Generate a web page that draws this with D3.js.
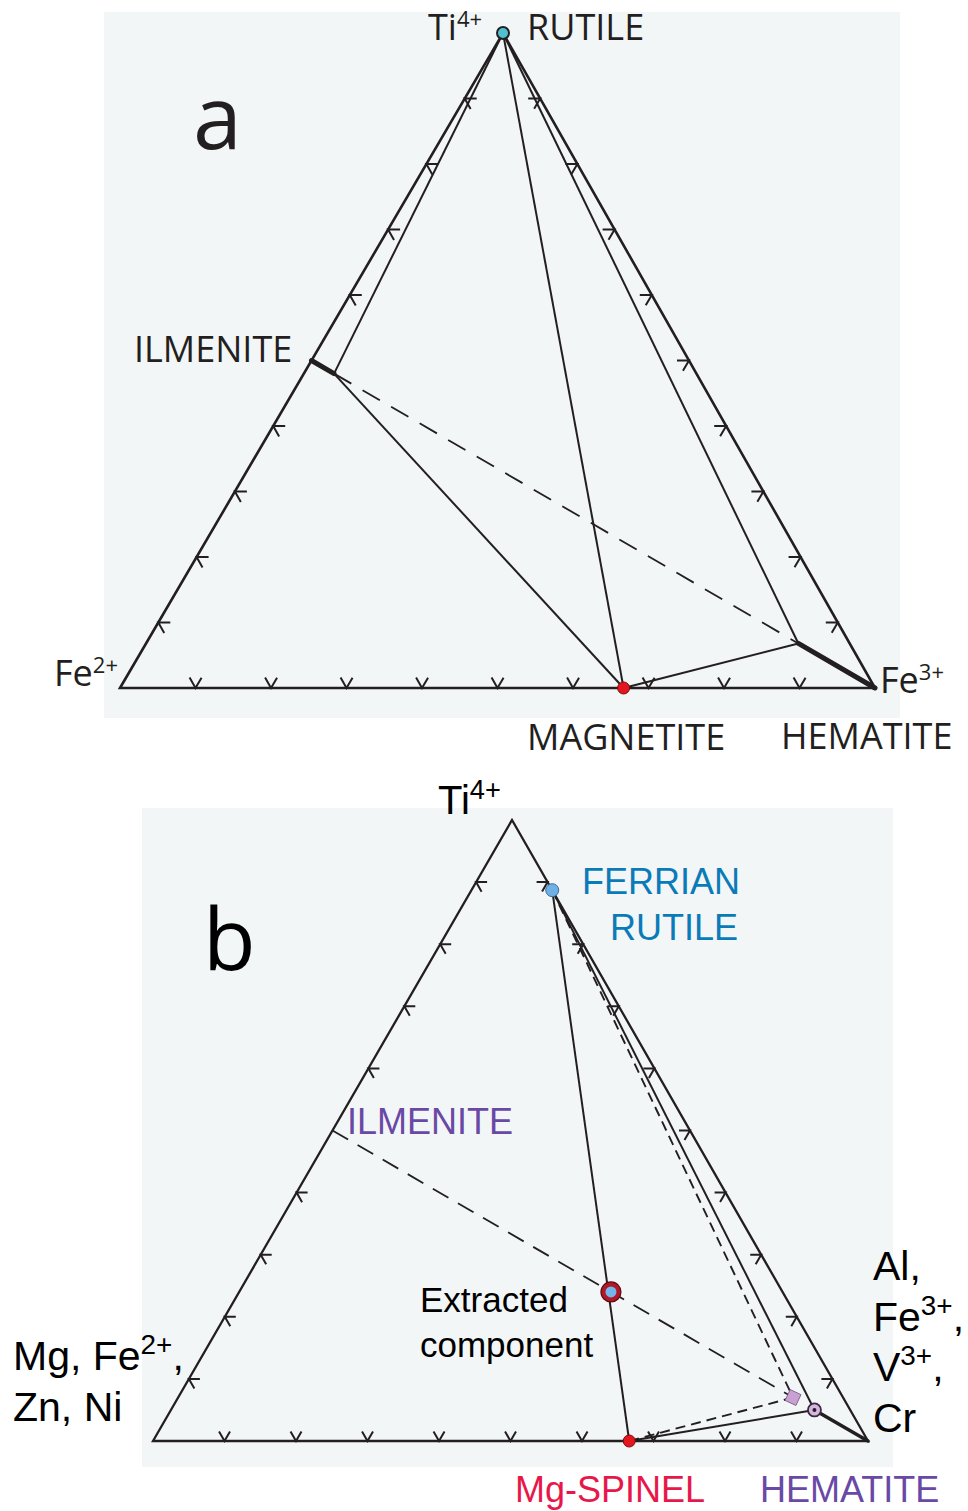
<!DOCTYPE html>
<html>
<head>
<meta charset="utf-8">
<script src="https://cdn.jsdelivr.net/npm/d3@7"></script>
<style>
  body { margin: 0; background: #ffffff; }
  svg { display: block; }
</style>
</head>
<body>
<svg id="chart" width="968" height="1511"></svg>
<script>
// Ternary cation fractions: ti = Ti4+ apex, l = left corner, r = right corner.

// Edge ticks at every tenth along each side
const tickFractions = [0.1, 0.2, 0.3, 0.4, 0.5, 0.6, 0.7, 0.8, 0.9];

// Panel a: Ti4+ – Fe2+ – Fe3+
const phasesA = [
  { id: "rutile",    ti: 1.0,   l: 0.0,   r: 0.0 },
  { id: "ilmenite",  ti: 0.5,   l: 0.5,   r: 0.0 },
  { id: "ilmSS",     ti: 0.48,  l: 0.48,  r: 0.04 },
  { id: "hemSS",     ti: 0.068, l: 0.068, r: 0.864 },
  { id: "magnetite", ti: 0.0,   l: 0.333, r: 0.667 },
  { id: "hematite",  ti: 0.0,   l: 0.0,   r: 1.0 }
];
// Tie lines: [from, to, kind]  kind: tie | gap | solid-solution
const joinsA = [
  ["rutile", "ilmSS", "tie"],
  ["rutile", "magnetite", "tie"],
  ["rutile", "hemSS", "tie"],
  ["ilmSS", "magnetite", "tie"],
  ["magnetite", "hemSS", "tie"],
  ["ilmSS", "hemSS", "gap"],
  ["ilmenite", "ilmSS", "solid-solution"],
  ["hemSS", "hematite", "solid-solution"]
];

// Panel b: Ti4+ – (Mg, Fe2+, Zn, Ni) – (Al, Fe3+, V3+, Cr)
const phasesB = [
  { id: "ferrianRutile", ti: 0.887, l: 0.0,   r: 0.113 },
  { id: "ilmenite",      ti: 0.5,   l: 0.5,   r: 0.0 },
  { id: "spinel",        ti: 0.0,   l: 0.334, r: 0.666 },
  { id: "hematite",      ti: 0.05,  l: 0.05,  r: 0.90 },
  { id: "hematite2",     ti: 0.07,  l: 0.07,  r: 0.86 },
  { id: "extracted",     ti: 0.24,  l: 0.24,  r: 0.52 },
  { id: "corner",        ti: 0.0,   l: 0.0,   r: 1.0 }
];
const joinsB = [
  ["ferrianRutile", "spinel", "tie"],
  ["ferrianRutile", "hematite", "tie"],
  ["spinel", "hematite", "tie"],
  ["ferrianRutile", "hematite2", "tie2"],
  ["spinel", "hematite2", "tie2"],
  ["ilmenite", "hematite2", "gap"],
  ["hematite", "corner", "solid-solution"]
];

const svg = d3.select("#chart");
const INK = "#231f20";

// Build a ternary projection from triangle corners using linear scales
function ternary(apex, left, right) {
  const yOf = d3.scaleLinear().domain([0, 1]).range([left[1], apex[1]]);
  const xOf = d3.scaleLinear().domain([0, 1]).range([left[0], right[0]]);
  const skew = (apex[0] - left[0]) / (right[0] - left[0]);
  return p => [xOf(p.r + p.ti * skew), yOf(p.ti)];
}

function drawPanel(g, proj, opts) {
  const A = proj({ ti: 1, l: 0, r: 0 });
  const L = proj({ ti: 0, l: 1, r: 0 });
  const R = proj({ ti: 0, l: 0, r: 1 });
  const unit = (p, q) => {
    const dx = q[0] - p[0], dy = q[1] - p[1], n = Math.hypot(dx, dy);
    return [dx / n, dy / n];
  };
  const arm = opts.tickLen;

  // triangle outline
  g.append("path")
    .attr("d", d3.line()([L, A, R, L]) + "Z")
    .attr("fill", "none").attr("stroke", INK)
    .attr("stroke-width", opts.edgeWidth).attr("stroke-linejoin", "miter");

  // chevron ticks: vertex on the edge, arms parallel to the other two sides
  const edges = [
    { from: L, to: A, arms: [unit(L, R), unit(A, R)], skip: opts.skipLeft },
    { from: A, to: R, arms: [unit(R, L), unit(A, L)], skip: [] },
    { from: L, to: R, arms: [unit(L, A), unit(R, A)], skip: [] }
  ];
  edges.forEach(e => {
    tickFractions.forEach(t => {
      if (e.skip.includes(t)) return;
      const v = [e.from[0] + (e.to[0] - e.from[0]) * t, e.from[1] + (e.to[1] - e.from[1]) * t];
      const a1 = [v[0] + e.arms[0][0] * arm, v[1] + e.arms[0][1] * arm];
      const a2 = [v[0] + e.arms[1][0] * arm, v[1] + e.arms[1][1] * arm];
      g.append("path")
        .attr("d", d3.line()([a1, v, a2]))
        .attr("fill", "none").attr("stroke", INK).attr("stroke-width", 2);
    });
  });

  // tie lines
  const byId = id => proj(opts.phases.find(p => p.id === id));
  opts.joins.forEach(([f, t, kind]) => {
    const s = opts.styles[kind];
    g.append("line")
      .attr("x1", byId(f)[0]).attr("y1", byId(f)[1])
      .attr("x2", byId(t)[0]).attr("y2", byId(t)[1])
      .attr("stroke", INK)
      .attr("stroke-width", s.w)
      .attr("stroke-dasharray", s.dash || null)
      .attr("stroke-linecap", s.cap || "butt");
  });
  return { A, L, R, byId };
}

// ---------- Panel a ----------
svg.append("rect").attr("x", 104).attr("y", 12).attr("width", 796).attr("height", 706).attr("fill", "#f3f6f6");
const gA = svg.append("g");
const projA = ternary([503, 33], [120, 688], [875, 690]);
const pa = drawPanel(gA, projA, {
  phases: phasesA, joins: joinsA, tickLen: 12, edgeWidth: 2.6, skipLeft: [0.5],
  styles: {
    "tie": { w: 2 },
    "gap": { w: 1.8, dash: "20 13" },
    "solid-solution": { w: 5, cap: "round" }
  }
});

// rutile and magnetite markers
gA.append("circle").attr("cx", pa.byId("rutile")[0]).attr("cy", pa.byId("rutile")[1]).attr("r", 6)
  .attr("fill", "#4fc0d0").attr("stroke", INK).attr("stroke-width", 2);
gA.append("circle").attr("cx", pa.byId("magnetite")[0]).attr("cy", pa.byId("magnetite")[1]).attr("r", 6)
  .attr("fill", "#e4161e").attr("stroke", "#7a0d10").attr("stroke-width", 1);

const fontA = "'Open Sans', 'Noto Sans', sans-serif";
function labelA(x, y, text, sup) {
  const t = svg.append("text").attr("x", x).attr("y", y)
    .attr("font-family", fontA).attr("font-size", 36).attr("fill", INK).text(text);
  if (sup) t.append("tspan").attr("dy", -13).attr("font-size", 22).text(sup);
  return t;
}
labelA(428, 40, "Ti", "4+");
labelA(527, 40, "RUTILE");
labelA(134, 362, "ILMENITE");
labelA(54, 686, "Fe", "2+");
labelA(880, 693, "Fe", "3+");
labelA(527, 750, "MAGNETITE");
labelA(781, 749, "HEMATITE");
svg.append("text").attr("x", 193).attr("y", 149).attr("font-family", fontA)
  .attr("font-size", 88).attr("fill", INK).text("a");

// ---------- Panel b ----------
svg.append("rect").attr("x", 142).attr("y", 808).attr("width", 751).attr("height", 659).attr("fill", "#f3f6f6");
const gB = svg.append("g");
const projB = ternary([512, 820], [153, 1441], [868, 1441]);
const pb = drawPanel(gB, projB, {
  phases: phasesB, joins: joinsB, tickLen: 11, edgeWidth: 2.3, skipLeft: [0.5],
  styles: {
    "tie": { w: 2 },
    "tie2": { w: 1.9, dash: "10 6" },
    "gap": { w: 1.8, dash: "18 11" },
    "solid-solution": { w: 3.5, cap: "round" }
  }
});

const fr = pb.byId("ferrianRutile");
gB.append("circle").attr("cx", fr[0]).attr("cy", fr[1]).attr("r", 6.5)
  .attr("fill", "#6fb0e6").attr("stroke", "#3a6f9a").attr("stroke-width", 1);
const sp = pb.byId("spinel");
gB.append("circle").attr("cx", sp[0]).attr("cy", sp[1]).attr("r", 6)
  .attr("fill", "#e4161e").attr("stroke", "#7a0d10").attr("stroke-width", 1);
const h2 = pb.byId("hematite2");
gB.append("rect").attr("x", -6).attr("y", -6).attr("width", 12).attr("height", 12)
  .attr("transform", `translate(${h2[0]},${h2[1]}) rotate(25)`)
  .attr("fill", "#c9a0d2").attr("stroke", "#7a5a86").attr("stroke-width", 0.8);
const hm = pb.byId("hematite");
gB.append("circle").attr("cx", hm[0]).attr("cy", hm[1]).attr("r", 6.5)
  .attr("fill", "#d7b6dc").attr("stroke", "#3a2a40").attr("stroke-width", 1.8);
gB.append("circle").attr("cx", hm[0]).attr("cy", hm[1]).attr("r", 2).attr("fill", "#2a1a30");
const ex = pb.byId("extracted");
gB.append("circle").attr("cx", ex[0]).attr("cy", ex[1]).attr("r", 10)
  .attr("fill", "#b0182a").attr("stroke", "#5a0a14").attr("stroke-width", 1.2);
gB.append("circle").attr("cx", ex[0]).attr("cy", ex[1]).attr("r", 5.5)
  .attr("fill", "#72b6ea");

const fontB = "'Liberation Sans', Arial, sans-serif";
function labelB(x, y, text, opt) {
  const o = opt || {};
  const size = o.size || 36;
  const t = svg.append("text").attr("x", x).attr("y", y)
    .attr("font-family", fontB).attr("font-size", size).attr("fill", o.color || "#000")
    .attr("text-anchor", o.anchor || "start").text(text);
  if (o.sup) t.append("tspan").attr("dy", -size * 0.38).attr("font-size", size * 0.68).text(o.sup);
  if (o.tail) t.append("tspan").attr("dy", size * 0.38).text(o.tail);
  return t;
}
labelB(438, 814, "Ti", { size: 40, sup: "4+" });
labelB(740, 894, "FERRIAN", { color: "#0a7bb8", anchor: "end" });
labelB(738, 940, "RUTILE", { color: "#0a7bb8", anchor: "end" });
labelB(347, 1134, "ILMENITE", { color: "#6a48a6" });
labelB(420, 1312, "Extracted", { size: 35 });
labelB(420, 1357, "component", { size: 35 });
labelB(13, 1370, "Mg, Fe", { size: 41, sup: "2+", tail: "," });
labelB(13, 1421, "Zn, Ni", { size: 41 });
labelB(873, 1280, "Al,", { size: 41 });
labelB(873, 1331, "Fe", { size: 41, sup: "3+", tail: "," });
labelB(873, 1381, "V", { size: 41, sup: "3+", tail: "," });
labelB(873, 1432, "Cr", { size: 41 });
labelB(515, 1502, "Mg-SPINEL", { color: "#e8174a" });
labelB(760, 1502, "HEMATITE", { color: "#6a48a6" });
svg.append("text").attr("x", 203).attr("y", 970).attr("font-family", fontA)
  .attr("font-size", 86).attr("fill", "#000").text("b");
</script>
</body>
</html>
